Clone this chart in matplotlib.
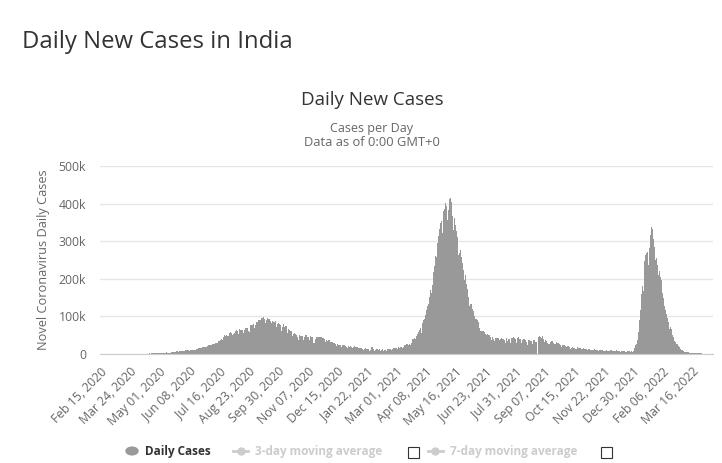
import datetime
import matplotlib
matplotlib.use("Agg")
import matplotlib.pyplot as plt
from matplotlib.patches import Rectangle, Circle
from matplotlib.lines import Line2D

plt.rcParams['font.family'] = ['Open Sans', 'DejaVu Sans']

start_date = datetime.date(2020, 2, 15)

# daily new cases in thousands, one list per month
feb_2020 = [0.0, 0.0, 0.0, 0.0, 0.0, 0.0, 0.0, 0.0, 0.0, 0.0, 0.0, 0.0, 0.0, 0.0, 0.0]
mar_2020 = [0.0, 0.0, 0.0, 0.0, 0.0, 0.0, 0.0, 0.0, 0.0, 0.0, 0.0, 0.0, 0.0, 0.0, 0.0, 0.0,
            0.0, 0.0, 0.0, 0.1, 0.1, 0.1, 0.1, 0.1, 0.1, 0.1, 0.2, 0.1, 0.1, 0.2, 0.3]
apr_2020 = [0.6, 0.5, 0.5, 0.6, 0.5, 0.7, 0.6, 0.6, 0.8, 0.9, 1.0, 0.8, 1.2, 1.0, 0.9,
            1.0, 1.2, 1.4, 1.3, 1.5, 1.5, 1.4, 1.7, 1.4, 1.8, 1.6, 1.6, 1.9, 1.8, 1.8]
may_2020 = [2.4, 2.4, 2.5, 3.6, 3.0, 3.6, 3.3, 3.3, 3.2, 4.2, 3.6, 3.5, 3.7, 3.9, 3.9, 4.8,
            5.0, 4.6, 5.6, 5.6, 6.1, 6.6, 6.7, 6.8, 6.5, 6.5, 7.0, 7.5, 8.0, 7.9, 8.4]
jun_2020 = [8.2, 8.0, 9.6, 9.9, 9.5, 10.4, 9.9, 9.0, 9.9, 11.1, 11.0, 11.5, 12.0, 11.2, 10.7,
            11.0, 13.1, 13.6, 14.5, 15.4, 15.0, 14.8, 16.0, 16.9, 17.3, 18.2, 18.5, 19.5, 19.4, 18.7]
jul_2020 = [19.0, 21.9, 22.7, 24.0, 24.4, 22.2, 22.7, 25.6, 26.5, 27.1, 27.8, 28.6, 28.2, 29.4,
            32.7, 35.5, 34.9, 38.0, 38.9, 37.1, 37.7, 45.6, 49.3, 48.9, 48.5, 49.9, 47.7, 48.0,
            52.2, 55.1, 57.7]
aug_2020 = [54.7, 53.6, 51.0, 52.0, 56.3, 62.5, 61.5, 64.4, 62.1, 53.0, 61.0, 66.9, 64.6, 65.0,
            64.6, 63.5, 55.0, 65.0, 69.7, 68.9, 69.9, 69.9, 61.4, 59.7, 67.2, 75.8, 77.3, 76.8,
            78.5, 79.0, 69.9]
sep_2020 = [78.4, 83.9, 83.3, 86.4, 90.6, 91.7, 75.0, 89.7, 95.7, 96.6, 97.6, 94.4, 93.2, 81.9,
            90.1, 97.9, 96.4, 93.3, 93.2, 86.9, 75.1, 83.3, 86.5, 86.1, 86.0, 85.4, 88.6, 70.6,
            80.5, 86.8]
oct_2020 = [81.5, 79.5, 75.8, 75.6, 61.3, 72.0, 78.8, 70.5, 73.3, 73.2, 74.4, 55.3, 63.5, 67.7,
            63.4, 62.2, 61.9, 55.7, 46.8, 54.0, 55.8, 54.4, 53.4, 50.1, 45.2, 36.5, 43.9, 49.9,
            48.6, 48.3, 46.9]
nov_2020 = [45.2, 38.3, 46.2, 50.2, 47.6, 50.4, 45.7, 45.9, 38.1, 44.3, 47.9, 44.9, 44.7, 41.1,
            30.5, 29.2, 38.6, 45.6, 45.9, 46.2, 45.2, 44.1, 37.9, 44.4, 44.5, 43.1, 41.3, 41.8,
            38.8, 31.1]
dec_2020 = [36.6, 36.6, 35.6, 36.6, 36.7, 32.9, 26.6, 32.1, 31.5, 29.4, 30.0, 30.3, 27.1, 22.1,
            26.4, 24.0, 22.9, 22.9, 25.2, 26.6, 19.6, 23.9, 23.1, 23.1, 18.7, 22.3, 18.7, 16.4,
            20.5, 21.8, 19.1]
jan_2021 = [20.0, 18.2, 18.2, 16.5, 18.1, 20.3, 18.1, 18.1, 18.2, 18.6, 16.3, 12.6, 15.9, 16.9,
            15.6, 15.1, 13.8, 10.1, 13.8, 15.2, 14.5, 14.2, 14.3, 13.2, 9.1, 12.7, 11.7, 18.9,
            18.8, 13.1, 13.0]
feb_2021 = [8.6, 11.0, 12.9, 12.4, 12.4, 11.7, 12.1, 9.1, 9.1, 11.1, 12.9, 9.3, 12.2, 11.4,
            11.6, 9.1, 11.6, 12.9, 13.2, 14.0, 14.3, 14.2, 10.6, 13.7, 16.7, 16.6, 16.4, 16.7]
mar_2021 = [15.5, 12.3, 14.9, 17.4, 16.8, 18.3, 18.7, 18.6, 15.4, 17.9, 22.9, 23.3, 24.9, 25.3,
            26.3, 24.5, 25.1, 26.3, 24.5, 28.9, 35.9, 39.7, 40.9, 43.8, 46.9, 40.7, 47.3, 53.5,
            59.1, 62.3, 62.7]
apr_2021 = [68.0, 56.2, 72.3, 81.5, 89.1, 93.2, 103.6, 96.9, 115.7, 126.8, 131.9, 144.8, 152.6,
            168.9, 161.7, 184.4, 200.7, 217.4, 234.7, 261.4, 273.8, 259.2, 295.0, 314.8, 332.7,
            345.1, 349.3, 352.9, 323.0, 360.9]
may_2021 = [379.3, 386.9, 402.0, 392.5, 368.1, 357.2, 382.3, 412.6, 414.2, 401.1, 403.4, 366.2,
            329.5, 348.4, 362.7, 343.1, 326.1, 311.2, 281.4, 263.5, 267.3, 276.1, 259.6, 257.3,
            240.8, 222.3, 196.4, 208.9, 211.3, 186.4, 173.8]
jun_2021 = [165.6, 152.7, 127.5, 132.8, 134.2, 132.4, 120.5, 114.5, 100.6, 86.5, 92.6, 94.1,
            91.7, 84.3, 80.8, 70.4, 60.5, 62.2, 67.2, 62.5, 60.8, 58.4, 53.3, 42.6, 50.8, 54.1,
            51.7, 48.7, 50.0, 46.1]
jul_2021 = [37.6, 45.9, 48.8, 39.8, 34.7, 43.7, 45.9, 43.4, 42.8, 41.5, 37.2, 31.4, 38.8, 41.8,
            38.9, 38.1, 41.2, 38.2, 30.1, 42.0, 41.4, 35.3, 39.1, 39.7, 39.7, 29.7, 43.7, 43.5,
            44.2, 41.6, 41.8]
aug_2021 = [40.1, 30.5, 42.6, 42.9, 44.6, 38.6, 39.1, 35.5, 28.2, 38.4, 41.2, 40.1, 38.7, 36.1,
            32.9, 25.2, 35.2, 36.4, 36.6, 34.5, 34.4, 25.0, 25.5, 37.6, 36.4, 34.5, 33.0, 31.5,
            0.5, 46.2, 44.7]
sep_2021 = [46.8, 45.1, 42.9, 42.6, 47.1, 38.9, 31.2, 37.9, 34.9, 33.4, 28.6, 27.3, 25.4, 27.2,
            30.6, 34.4, 35.7, 30.8, 30.3, 26.1, 26.9, 31.9, 31.4, 29.6, 28.3, 26.0, 18.8, 23.5,
            18.9, 23.5]
oct_2021 = [26.7, 24.4, 22.8, 20.8, 18.3, 18.8, 22.4, 21.3, 19.7, 18.1, 14.3, 15.8, 18.9, 16.9,
            14.5, 15.9, 13.6, 13.0, 14.6, 18.5, 15.8, 16.3, 16.3, 14.3, 12.4, 14.0, 16.2, 14.3,
            14.3, 12.8, 12.8]
nov_2021 = [10.4, 11.9, 12.9, 12.7, 10.9, 10.8, 11.5, 10.1, 11.4, 13.1, 13.1, 11.9, 11.3, 11.2,
            8.9, 10.2, 11.9, 10.3, 11.1, 10.3, 10.5, 8.5, 7.6, 9.3, 9.1, 10.5, 8.8, 8.8, 6.9, 8.3]
dec_2021 = [9.8, 9.8, 9.2, 8.6, 8.9, 6.8, 8.4, 9.4, 9.4, 8.5, 7.9, 7.8, 7.4, 5.8, 6.9, 7.9, 7.2,
            7.1, 7.1, 6.6, 5.3, 6.3, 7.5, 7.0, 7.2, 6.9, 6.5, 6.9, 6.5, 9.2, 13.2]
jan_2022 = [16.8, 22.8, 27.6, 33.8, 37.4, 58.1, 90.9, 117.1, 141.9, 159.6, 179.7, 168.1, 194.7,
            247.4, 264.2, 268.8, 271.2, 258.1, 238.0, 282.9, 317.5, 347.3, 337.7, 333.5, 306.1,
            285.9, 286.4, 251.2, 255.9, 235.5, 234.3]
feb_2022 = [209.9, 220.0, 205.0, 198.0, 172.4, 161.4, 149.4, 127.9, 131.0, 118.0, 107.5, 96.0,
            83.9, 71.4, 67.6, 72.0, 67.1, 58.1, 50.4, 44.9, 34.1, 30.6, 30.8, 27.4, 25.9, 22.3,
            19.9, 16.1]
mar_2022 = [12.4, 10.1, 9.8, 7.6, 7.1, 5.7, 5.9, 4.6, 4.9, 4.2, 4.4, 3.6, 3.3, 2.9, 3.1, 2.8,
            2.5, 2.6, 2.1, 1.8, 1.6, 1.9, 1.9, 1.7, 1.6, 1.4, 1.3, 1.4, 1.2, 1.2, 1.3]
apr_2022 = [1.1, 1.3, 1.1, 0.9, 0.8, 1.1, 1.0, 1.1, 1.2, 1.1, 0.9]

months = [feb_2020, mar_2020, apr_2020, may_2020, jun_2020, jul_2020, aug_2020, sep_2020,
          oct_2020, nov_2020, dec_2020, jan_2021, feb_2021, mar_2021, apr_2021, may_2021,
          jun_2021, jul_2021, aug_2021, sep_2021, oct_2021, nov_2021, dec_2021, jan_2022,
          feb_2022, mar_2022, apr_2022]
daily = []
for m in months:
    daily += [v * 1000 for v in m]
days = list(range(len(daily)))

yticks = [0, 100000, 200000, 300000, 400000, 500000]
ytick_labels = ["0", "100k", "200k", "300k", "400k", "500k"]

W, H = 722, 463
fig = plt.figure(figsize=(W / 100, H / 100), dpi=100)

def fx(x):
    return x / W

def fy(y):
    return 1 - y / H

ax = fig.add_axes([fx(100), fy(354), (713 - 100) / W, (354 - 166) / H])
ax.bar(days, daily, width=1.0, color="#999999", linewidth=0)
ax.set_xlim(-0.5, len(daily) - 0.5)
ax.set_ylim(0, 500000)
ax.set_yticks(yticks)
ax.set_yticklabels(ytick_labels)
ax.yaxis.grid(True, color="#e6e6e6", linewidth=1)
ax.set_axisbelow(True)
for s in ["top", "right", "left"]:
    ax.spines[s].set_visible(False)
ax.spines["bottom"].set_color("#cccccc")

tick_idx = list(range(0, len(daily), 38))
tick_labels = [(start_date + datetime.timedelta(days=i)).strftime("%b %d, %Y") for i in tick_idx]
ax.set_xticks(tick_idx)
ax.set_xticklabels(tick_labels, rotation=45, ha="right", rotation_mode="anchor")
ax.tick_params(axis="x", length=0, pad=8, labelsize=8.8, labelcolor="#666666")
ax.tick_params(axis="y", length=0, pad=10, labelsize=8.8, labelcolor="#666666")

ax.set_ylabel("Novel Coronavirus Daily Cases", fontsize=9.2, color="#666666", labelpad=6)

fig.text(fx(22), fy(42), "Daily New Cases in India", fontsize=17.2, color="#333333", va="center")
fig.text(fx(372), fy(100), "Daily New Cases", fontsize=13.5, color="#333333", ha="center", va="center")
fig.text(fx(372), fy(128), "Cases per Day", fontsize=9, color="#666666", ha="center", va="center")
fig.text(fx(372), fy(143), "Data as of 0:00 GMT+0", fontsize=9.3, color="#666666", ha="center", va="center")

# legend
ly = 451
fig.patches.append(Circle((fx(132), fy(ly)), 6 / W, color="#999999", transform=fig.transFigure,
                          figure=fig))
fig.text(fx(145), fy(ly), "Daily Cases", fontsize=8.5, color="#333333", weight="bold", va="center")
for x0, label, x_box in [(233, "3-day moving average", 408), (428, "7-day moving average", 601)]:
    fig.lines.append(Line2D([fx(x0), fx(x0 + 15)], [fy(ly), fy(ly)], color="#cccccc", linewidth=2,
                            transform=fig.transFigure, figure=fig))
    fig.lines.append(Line2D([fx(x0 + 7.5)], [fy(ly)], marker="o", markersize=5, color="#cccccc",
                            transform=fig.transFigure, figure=fig))
    fig.text(fx(x0 + 22), fy(ly), label, fontsize=8.5, color="#cccccc", weight="bold", va="center")
    fig.patches.append(Rectangle((fx(x_box), fy(ly + 7)), 11 / W, 11 / H, facecolor="white",
                                 edgecolor="#333333", linewidth=0.8, transform=fig.transFigure,
                                 figure=fig))

fig.savefig("out.png", dpi=100)
